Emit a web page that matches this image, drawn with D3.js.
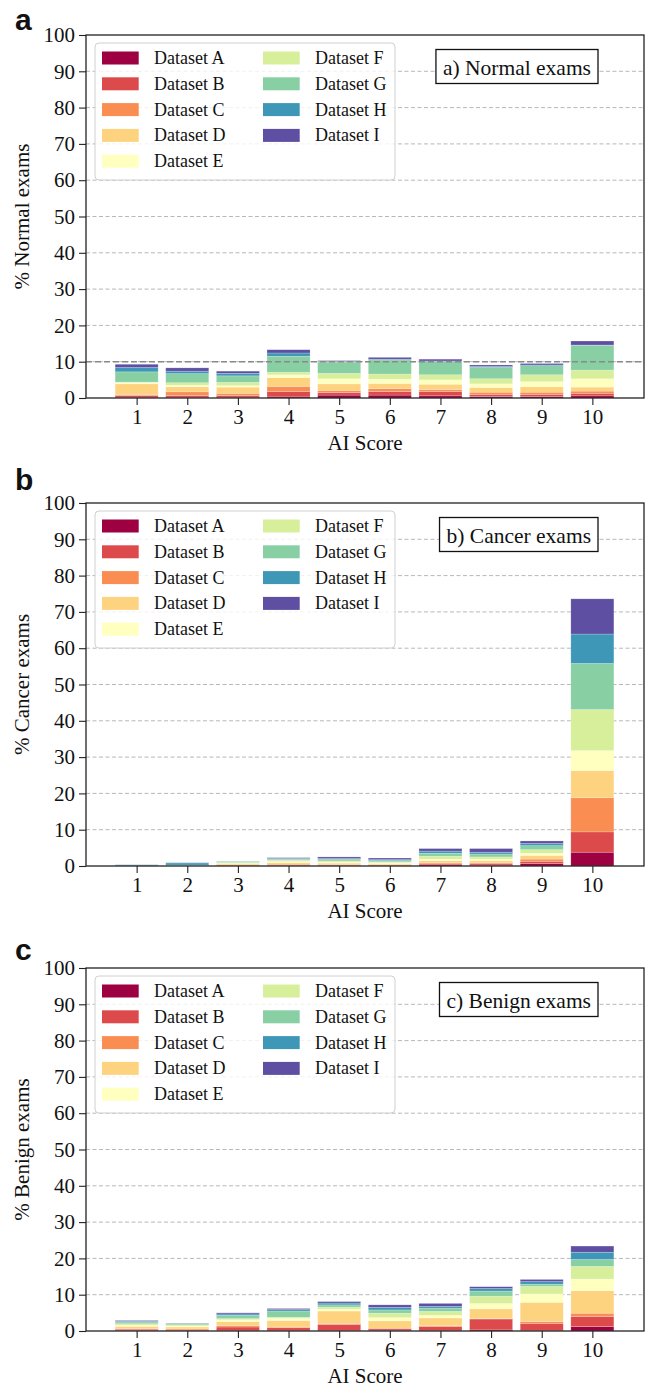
<!DOCTYPE html>
<html>
<head>
<meta charset="utf-8">
<script src="https://cdn.jsdelivr.net/npm/d3@7"></script>
<style>
  body { margin: 0; background: #fff; }
  svg text { font-family: "Liberation Serif", "DejaVu Serif", serif; fill: #111; }
</style>
</head>
<body>
<div id="chart"></div>
<script>
// Scores on the x axis and the nine datasets stacked in each bar
const scores = [1, 2, 3, 4, 5, 6, 7, 8, 9, 10];
const datasets = ["Dataset A", "Dataset B", "Dataset C", "Dataset D", "Dataset E",
                  "Dataset F", "Dataset G", "Dataset H", "Dataset I"];
const colours = ["#9e0142", "#dd4a4c", "#f98d52", "#fed380", "#ffffbf",
                 "#d7ef9b", "#88cfa4", "#3f97b7", "#5e4fa2"];
const yTicks = [0, 10, 20, 30, 40, 50, 60, 70, 80, 90, 100];
const referenceLine = 10;

// One row per AI score, values for datasets A..I (percent of exams)
const normalExams = [
    [0.2, 0.5, 0.3, 2.9, 0.3, 0.2, 2.8, 1.2, 0.9],
    [0.2, 0.5, 1.0, 1.4, 0.4, 0.7, 2.5, 0.7, 0.9],
    [0.2, 0.5, 0.6, 1.7, 0.4, 0.9, 1.8, 0.7, 0.6],
    [0.3, 1.5, 1.4, 2.4, 0.8, 0.7, 4.4, 0.9, 0.9],
    [0.8, 0.7, 0.6, 1.8, 1.4, 1.5, 3.1, 0.2, 0.2],
    [0.8, 1.0, 0.8, 1.4, 1.2, 1.4, 3.9, 0.2, 0.5],
    [0.6, 1.2, 0.5, 1.5, 1.2, 1.4, 3.6, 0.2, 0.5],
    [0.4, 0.6, 0.6, 1.3, 1.0, 1.4, 3.1, 0.3, 0.4],
    [0.4, 0.6, 0.6, 1.5, 1.4, 1.9, 2.5, 0.2, 0.4],
    [0.6, 0.7, 0.6, 1.1, 2.3, 2.4, 6.8, 0.1, 1.1]
];
const cancerExams = [
    [0.0, 0.0, 0.0, 0.02, 0.0, 0.02, 0.05, 0.25, 0.03],
    [0.0, 0.0, 0.05, 0.05, 0.0, 0.05, 0.1, 0.6, 0.05],
    [0.0, 0.05, 0.25, 0.3, 0.1, 0.3, 0.25, 0.05, 0.0],
    [0.05, 0.1, 0.35, 0.45, 0.3, 0.35, 0.3, 0.2, 0.2],
    [0.05, 0.1, 0.3, 0.35, 0.25, 0.35, 0.4, 0.25, 0.45],
    [0.05, 0.1, 0.2, 0.35, 0.2, 0.25, 0.35, 0.25, 0.45],
    [0.3, 0.3, 0.3, 0.6, 0.4, 0.8, 0.8, 0.6, 0.7],
    [0.2, 0.4, 0.3, 0.6, 0.4, 0.6, 0.8, 0.5, 1.0],
    [0.7, 0.6, 0.6, 1.0, 0.6, 1.0, 1.1, 0.6, 0.7],
    [3.8, 5.6, 9.4, 7.5, 5.5, 11.3, 12.7, 8.1, 9.7]
];
const benignExams = [
    [0.1, 0.4, 0.2, 0.6, 0.3, 0.4, 0.5, 0.2, 0.2],
    [0.05, 0.25, 0.3, 0.5, 0.3, 0.3, 0.4, 0.05, 0.05],
    [0.1, 1.0, 0.4, 1.1, 0.5, 0.3, 0.9, 0.4, 0.3],
    [0.2, 0.7, 0.2, 1.8, 0.6, 0.3, 1.7, 0.4, 0.3],
    [0.2, 1.6, 0.3, 3.4, 0.5, 0.6, 0.6, 0.5, 0.4],
    [0.2, 0.4, 0.2, 2.0, 0.9, 1.2, 0.9, 0.7, 0.7],
    [0.2, 1.0, 0.3, 2.1, 0.7, 1.1, 0.9, 0.5, 0.8],
    [0.3, 3.0, 0.1, 2.7, 1.5, 2.0, 1.4, 0.7, 0.5],
    [0.2, 1.9, 0.5, 5.3, 2.3, 2.1, 0.6, 0.7, 0.6],
    [1.2, 2.8, 0.9, 6.2, 3.2, 3.5, 1.9, 2.0, 1.7]
];

const panels = [
    { letter: "a", title: "a) Normal exams", yLabel: "% Normal exams", values: normalExams, top: 35, refLine: true },
    { letter: "b", title: "b) Cancer exams", yLabel: "% Cancer exams", values: cancerExams, top: 503, refLine: false },
    { letter: "c", title: "c) Benign exams", yLabel: "% Benign exams", values: benignExams, top: 968, refLine: false }
];

const totalWidth = 647, totalHeight = 1387;
const left = 86, right = 644;
const plotH = 363;

const svg = d3.select("#chart")
    .append("svg")
    .attr("width", totalWidth)
    .attr("height", totalHeight);

const x = d3.scaleLinear().domain([0, 11]).range([0, right - left - 1]);
const y = d3.scaleLinear().domain([0, 100]).range([plotH, 0]);
const barW = (x(1) - x(0)) * 0.85;

function drawPanel(p) {
    const g = svg.append("g").attr("transform", `translate(${left}, ${p.top})`);
    const w = right - left;

    // Grid lines (behind bars)
    g.append("g")
        .selectAll("line")
        .data(yTicks.filter(t => t > 0 && t < 100))
        .join("line")
        .attr("x1", 0).attr("x2", w)
        .attr("y1", d => y(d)).attr("y2", d => y(d))
        .attr("stroke", "#b8b8b8")
        .attr("stroke-width", 1)
        .attr("stroke-dasharray", "4,2.5");

    // Stacked bars
    const rows = p.values.map((v, i) => {
        const r = { score: scores[i] };
        datasets.forEach((k, j) => r[k] = v[j]);
        return r;
    });
    const stacked = d3.stack().keys(datasets)(rows);

    g.append("g")
        .selectAll("g")
        .data(stacked)
        .join("g")
        .attr("fill", (d, i) => colours[i])
        .selectAll("rect")
        .data(d => d)
        .join("rect")
        .attr("x", d => x(d.data.score) - barW / 2)
        .attr("width", barW)
        .attr("y", d => y(d[1]))
        .attr("height", d => Math.max(0, y(d[0]) - y(d[1])))
        .attr("stroke", "#ffffff")
        .attr("stroke-opacity", 0.35)
        .attr("stroke-width", 0.6);

    // 10% reference line
    if (p.refLine) {
        g.append("line")
            .attr("x1", 0).attr("x2", w)
            .attr("y1", y(referenceLine)).attr("y2", y(referenceLine))
            .attr("stroke", "#8a8a8a")
            .attr("stroke-width", 1.6)
            .attr("stroke-dasharray", "6,3");
    }

    // Legend
    const lg = g.append("g").attr("transform", "translate(9, 8)");
    lg.append("rect")
        .attr("width", 300).attr("height", 137)
        .attr("rx", 4)
        .attr("fill", "#fff").attr("fill-opacity", 0.8)
        .attr("stroke", "#d0d0d0").attr("stroke-width", 1);
    const items = lg.selectAll("g.item")
        .data(datasets)
        .join("g")
        .attr("class", "item")
        .attr("transform", (d, i) => {
            const col = i < 5 ? 0 : 1;
            const row = i < 5 ? i : i - 5;
            return `translate(${col === 0 ? 7 : 168}, ${15 + row * 25.8})`;
        });
    items.append("rect")
        .attr("width", 36.7).attr("height", 13)
        .attr("y", -6.5)
        .attr("fill", (d, i) => colours[i]);
    items.append("text")
        .attr("x", 52)
        .attr("y", 6)
        .style("font-size", "18px")
        .text(d => d);

    // Title box at top right
    const tb = g.append("g");
    const tt = tb.append("text")
        .attr("text-anchor", "end")
        .attr("x", 505)
        .attr("y", 40)
        .style("font-size", "21.5px")
        .text(p.title);
    const bb = tt.node().getBBox();
    tb.insert("rect", "text")
        .attr("x", bb.x - 7).attr("y", 14.5)
        .attr("width", bb.width + 14).attr("height", 34)
        .attr("fill", "#fff")
        .attr("stroke", "#111").attr("stroke-width", 1.3);

    // Axes
    const xAxis = g.append("g")
        .attr("transform", `translate(0, ${plotH})`)
        .call(d3.axisBottom(x).tickValues(scores).tickSize(7).tickPadding(4).tickFormat(d3.format("d")));
    const yAxis = g.append("g")
        .call(d3.axisLeft(y).tickValues(yTicks).tickSize(7).tickPadding(4));
    [xAxis, yAxis].forEach(a => {
        a.select(".domain").remove();
        a.selectAll(".tick line").attr("stroke", "#222").attr("stroke-width", 1.1);
        a.selectAll(".tick text")
            .style("font-size", "21px")
            .style("font-family", "Liberation Serif")
            .attr("fill", "#111");
    });

    // Frame
    g.append("rect")
        .attr("width", w).attr("height", plotH)
        .attr("fill", "none")
        .attr("stroke", "#222").attr("stroke-width", 1.3);

    // Axis titles
    g.append("text")
        .attr("x", w / 2)
        .attr("y", plotH + 52)
        .attr("text-anchor", "middle")
        .style("font-size", "21px")
        .text("AI Score");
    g.append("text")
        .attr("transform", `translate(${-57}, ${plotH / 2}) rotate(-90)`)
        .attr("text-anchor", "middle")
        .style("font-size", "21px")
        .text(p.yLabel);

    // Panel letter
    svg.append("text")
        .attr("x", 15)
        .attr("y", p.top - 5 + (p.letter === "b" ? -8 : p.letter === "c" ? -3 : 0))
        .style("font-family", "Liberation Sans, Arial, sans-serif")
        .style("font-weight", "bold")
        .style("font-size", "30px")
        .text(p.letter);
}

panels.forEach(drawPanel);
</script>
</body>
</html>
